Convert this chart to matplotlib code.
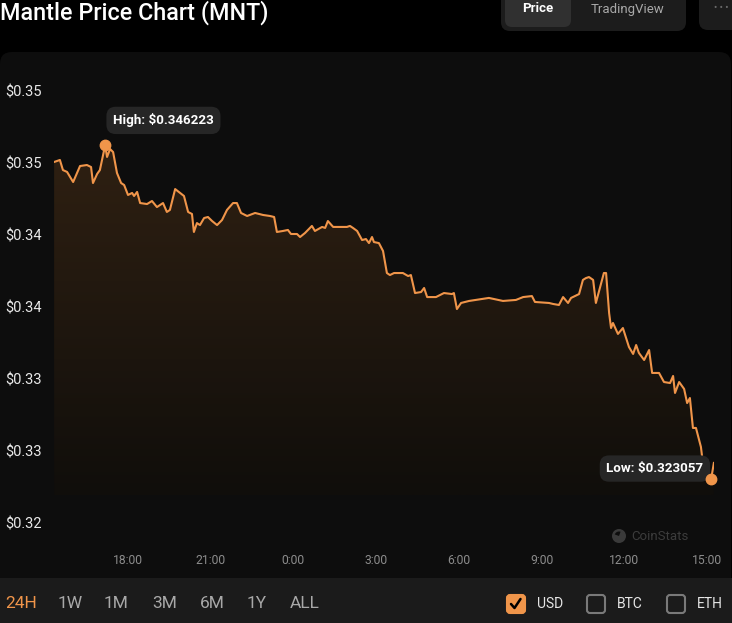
import numpy as np
import matplotlib
matplotlib.use("Agg")
import matplotlib.pyplot as plt
from matplotlib.patches import FancyBboxPatch, Rectangle, Circle, Wedge
from matplotlib.colors import LinearSegmentedColormap

plt.rcParams['font.family'] = ['Roboto', 'DejaVu Sans']

# hours since 15:00 of the previous day
times = [0.32, 0.53, 0.64, 0.79, 1.01, 1.26, 1.51, 1.66, 1.73, 1.88,
         1.98, 2.17, 2.24, 2.35, 2.46, 2.60, 2.75, 2.86, 3.00, 3.15,
         3.22, 3.33, 3.44, 3.69, 3.87, 4.05, 4.27, 4.41, 4.52, 4.71,
         4.89, 5.03, 5.18, 5.32, 5.39, 5.50, 5.61, 5.76, 5.90, 6.05,
         6.23, 6.41, 6.59, 6.81, 6.95, 7.10, 7.32, 7.61, 7.90, 8.15,
         8.30, 8.40, 8.62, 8.80, 8.91, 9.13, 9.24, 9.42, 9.67, 9.78,
         10.04, 10.15, 10.25, 10.44, 10.94, 11.05, 11.16, 11.31, 11.49, 11.63,
         11.74, 11.85, 11.92, 12.10, 12.25, 12.39, 12.50, 12.65, 12.97, 13.16,
         13.26, 13.41, 13.63, 13.74, 13.85, 14.17, 14.46, 14.75, 14.82, 14.93,
         15.08, 15.37, 16.09, 16.60, 17.07, 17.33, 17.65, 17.76, 18.27, 18.42,
         18.63, 18.78, 18.96, 19.07, 19.36, 19.50, 19.61, 19.72, 19.87, 19.97,
         20.26, 20.34, 20.45, 20.52, 20.59, 20.77, 20.95, 21.17, 21.32, 21.43,
         21.53, 21.72, 21.90, 22.01, 22.26, 22.44, 22.66, 22.77, 22.84, 22.99,
         23.17, 23.28, 23.38, 23.49, 23.60, 23.78, 23.89, 24.15, 24.25]

prices = [0.34507, 0.34521, 0.34451, 0.34438, 0.34368, 0.34479, 0.34486, 0.34472, 0.34361, 0.34424,
          0.34451, 0.346223, 0.34542, 0.34597, 0.34576, 0.34431, 0.34361, 0.34347, 0.34278, 0.34292,
          0.34271, 0.34299, 0.34222, 0.34215, 0.34236, 0.34194, 0.34222, 0.34160, 0.34174, 0.34319,
          0.34292, 0.34271, 0.34160, 0.34146, 0.34021, 0.34083, 0.34069, 0.34118, 0.34125, 0.34097,
          0.34069, 0.34104, 0.34174, 0.34222, 0.34222, 0.34153, 0.34132, 0.34153, 0.34139, 0.34132,
          0.34125, 0.34021, 0.34028, 0.34035, 0.34007, 0.34007, 0.33986, 0.34014, 0.34063, 0.34028,
          0.34056, 0.34049, 0.34097, 0.34056, 0.34056, 0.34063, 0.34049, 0.34028, 0.33965, 0.33972,
          0.33944, 0.33986, 0.33951, 0.33944, 0.33889, 0.33736, 0.33722, 0.33736, 0.33736, 0.33715,
          0.33722, 0.33597, 0.33604, 0.33632, 0.33569, 0.33569, 0.33597, 0.33590, 0.33597, 0.33486,
          0.33528, 0.33542, 0.33563, 0.33542, 0.33549, 0.33569, 0.33576, 0.33535, 0.33528, 0.33521,
          0.33514, 0.33569, 0.33528, 0.33563, 0.33590, 0.33688, 0.33701, 0.33708, 0.33688, 0.33528,
          0.33736, 0.33736, 0.33458, 0.33354, 0.33389, 0.33313, 0.33354, 0.33222, 0.33174, 0.33236,
          0.33181, 0.33132, 0.33201, 0.33042, 0.33042, 0.32979, 0.32972, 0.33021, 0.32903, 0.32979,
          0.32931, 0.32833, 0.32868, 0.32660, 0.32660, 0.32528, 0.32354, 0.323057, 0.32417]

y_ticks = [0.350, 0.345, 0.340, 0.335, 0.330, 0.325, 0.320]
y_labels = ["$0.35", "$0.35", "$0.34", "$0.34", "$0.33", "$0.33", "$0.32"]
x_ticks = [3, 6, 9, 12, 15, 18, 21, 24]
x_labels = ["18:00", "21:00", "0:00", "3:00", "6:00", "9:00", "12:00", "15:00"]
ranges = ["24H", "1W", "1M", "3M", "6M", "1Y", "ALL"]
currencies = ["USD", "BTC", "ETH"]

ORANGE = '#f0954a'
W, H = 732, 623

fig = plt.figure(figsize=(W / 100, H / 100), dpi=100, facecolor='black')

# page chrome in pixel coordinates
bg = fig.add_axes([0, 0, 1, 1])
bg.set_xlim(0, W)
bg.set_ylim(H, 0)
bg.axis('off')
bg.set_facecolor('black')

bg.add_patch(FancyBboxPatch((0, 52), 731, 560, boxstyle="round,pad=0,rounding_size=12",
                            fc='#0d0d0d', ec='none'))
bg.add_patch(Rectangle((0, 578), W, 45, fc='#1b1b1b', ec='none'))

bg.text(0, 19.5, "Mantle Price Chart (MNT)", color='white', fontsize=16.8, fontweight='medium',
        va='baseline', ha='left')

bg.add_patch(FancyBboxPatch((501, -12), 185, 43, boxstyle="round,pad=0,rounding_size=9",
                            fc='#1c1c1c', ec='none'))
bg.add_patch(FancyBboxPatch((505, -12), 66, 39, boxstyle="round,pad=0,rounding_size=7",
                            fc='#303030', ec='none'))
bg.text(538, 9, "Price", color='white', fontsize=9.5, fontweight='bold', ha='center', va='center')
bg.text(628, 9, "TradingView", color='#a8a8a8', fontsize=9.5, ha='center', va='center')
bg.add_patch(FancyBboxPatch((699, -12), 50, 42, boxstyle="round,pad=0,rounding_size=9",
                            fc='#1c1c1c', ec='none'))
bg.text(721, 8, "\u2022 \u2022 \u2022", color='#6a6a6a', fontsize=7, ha='center', va='center')

# watermark
bg.add_patch(Circle((619, 536), 7, fc='#3a3a3a', ec='none'))
bg.add_patch(Wedge((619, 536), 4.5, 200, 290, fc='#0d0d0d', ec='none'))
bg.text(631, 536, "CoinStats", color='#3c3c3c', fontsize=9.5, ha='left', va='center')

# range selector
range_x = [5, 58, 104, 152, 200, 247, 290]
for lbl, x in zip(ranges, range_x):
    bg.text(x, 603, lbl, color=ORANGE if lbl == "24H" else '#a8a8a8', fontsize=12.5,
            ha='left', va='center')

# currency checkboxes
box_x = [507, 587, 667]
for cur, x in zip(currencies, box_x):
    checked = cur == "USD"
    bg.add_patch(FancyBboxPatch((x, 595), 18, 18, boxstyle="round,pad=0,rounding_size=3",
                                fc=ORANGE if checked else 'none',
                                ec=ORANGE if checked else '#7a7a7a', lw=1.5))
    if checked:
        bg.plot([x + 4, x + 7.5, x + 13.5], [604, 608, 599], color='black', lw=1.8,
                solid_capstyle='round')
    bg.text(x + 30, 604, cur, color='#e6e6e6', fontsize=10, ha='left', va='center')

# price chart
ax = fig.add_axes([54 / W, (H - 523) / H, 660 / W, 432 / H])
ax.set_facecolor('none')
x0, x1 = 0.316, 24.254
base = 0.32194

cmap = LinearSegmentedColormap.from_list('fade', ['#100e0b', '#2f2012'])
grad = np.linspace(0, 1, 256).reshape(-1, 1)
im = ax.imshow(grad, extent=[x0, x1, base, max(prices)], origin='lower',
               aspect='auto', cmap=cmap, zorder=1)
poly = ax.fill_between(times, prices, base, color='none', lw=0)
im.set_clip_path(poly.get_paths()[0], transform=ax.transData)

ax.plot(times, prices, color=ORANGE, lw=1.5, zorder=3, solid_joinstyle='round')

i_hi = int(np.argmax(prices))
i_lo = int(np.argmin(prices))
ax.plot(times[i_hi], prices[i_hi], 'o', color=ORANGE, ms=7.5, zorder=6, clip_on=False)
ax.plot(times[i_lo], prices[i_lo], 'o', color=ORANGE, ms=7.5, zorder=6, clip_on=False)

tip = dict(boxstyle='round,pad=0.5,rounding_size=0.7', fc='#262626', ec='none')
ax.annotate(f"High: ${prices[i_hi]:.6f}", (times[i_hi], prices[i_hi]),
            xytext=(42, 18), textcoords='offset points', ha='center', va='center',
            color='white', fontsize=9.6, fontweight='bold', bbox=tip, zorder=5,
            annotation_clip=False)
ax.annotate(f"Low: ${prices[i_lo]:.6f}", (times[i_lo], prices[i_lo]),
            xytext=(-40.5, 7.5), textcoords='offset points', ha='center', va='center',
            color='white', fontsize=9.6, fontweight='bold', bbox=tip, zorder=5,
            annotation_clip=False)

ax.set_xlim(x0, x1)
ax.set_ylim(0.320, 0.350)
ax.set_yticks(y_ticks)
ax.set_yticklabels(y_labels)
ax.set_xticks(x_ticks)
ax.set_xticklabels(x_labels)
ax.tick_params(axis='y', length=0, pad=35, labelsize=10.5, labelcolor='#e8e8e8')
ax.tick_params(axis='x', length=0, pad=22, labelsize=8.7, labelcolor='#8c8c8c')
for t in ax.get_yticklabels():
    t.set_ha('left')
for s in ax.spines.values():
    s.set_visible(False)

fig.savefig('out.png', dpi=100, facecolor='black')
